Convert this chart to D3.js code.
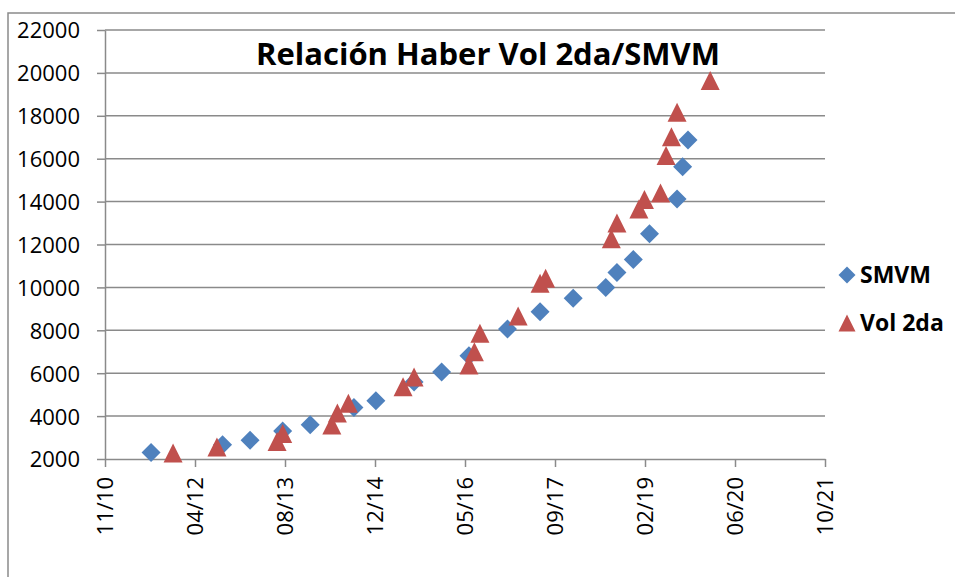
<!DOCTYPE html>
<html>
<head>
<meta charset="utf-8">
<script src="https://cdn.jsdelivr.net/npm/d3@7"></script>
<style>
	body { margin: 0; background: #fff; }
	svg { display: block; }
	svg text { font-family: "Open Sans", "DejaVu Sans", sans-serif; }
</style>
</head>
<body>
<div id="chart"></div>
<script>
// SMVM (salario minimo vital y movil)
var smvmDates = ["2011-08-01", "2012-09-01", "2013-02-01", "2013-08-01", "2014-01-01", "2014-09-01",
	"2015-01-01", "2015-08-01", "2016-01-01", "2016-06-01", "2017-01-01", "2017-07-01", "2018-01-01",
	"2018-07-01", "2018-09-01", "2018-12-01", "2019-03-01", "2019-08-01", "2019-09-01", "2019-10-01"];
var smvmValues = [2300, 2670, 2875, 3300, 3600, 4400, 4716, 5588, 6060, 6810, 8060, 8860, 9500,
	10000, 10700, 11300, 12500, 14125, 15625, 16875];

// haber Vol 2da
var volDates = ["2011-12-01", "2012-08-01", "2013-07-01", "2013-08-01", "2014-05-01", "2014-06-01",
	"2014-08-01", "2015-06-01", "2015-08-01", "2016-06-01", "2016-07-01", "2016-08-01", "2017-03-01",
	"2017-07-01", "2017-08-01", "2018-08-01", "2018-09-01", "2019-01-01", "2019-02-01", "2019-05-01",
	"2019-06-01", "2019-07-01", "2019-08-01", "2020-02-01"];
var volValues = [2280, 2560, 2820, 3190, 3585, 4145, 4600, 5370, 5825, 6380, 7000, 7860, 8670,
	10190, 10425, 12270, 13000, 13655, 14100, 14400, 16150, 17025, 18170, 19640];

var seriesNames = ["SMVM", "Vol 2da"];
var seriesColors = ["#4F81BD", "#C0504D"];
var title = "Relación Haber Vol 2da/SMVM";

// eje x: fechas de excel 40500 a 44500, cada 500 dias
var xStart = "2010-11-18";
var xStepDays = 500;
var xSteps = 8;
var yTicks = [2000, 4000, 6000, 8000, 10000, 12000, 14000, 16000, 18000, 20000, 22000];

var W = 955, H = 577;
var plotLeft = 105, plotRight = 825, plotTop = 30, plotBottom = 459;
var gray = "#8a8a8a";

var parse = d3.utcParse("%Y-%m-%d");
var t0 = parse(xStart);
var xTicks = d3.range(0, xSteps + 1).map(function(i) {
	return d3.utcDay.offset(t0, i * xStepDays);
});

var x = d3.scaleUtc()
	.domain([xTicks[0], xTicks[xTicks.length - 1]])
	.range([plotLeft, plotRight]);
var y = d3.scaleLinear()
	.domain([yTicks[0], yTicks[yTicks.length - 1]])
	.range([plotBottom, plotTop]);

var svg = d3.select("#chart")
	.append("svg")
	.attr("width", W)
	.attr("height", H);

// marco del grafico
svg.append("rect")
	.attr("x", 8)
	.attr("y", 13)
	.attr("width", W + 20)
	.attr("height", H + 20)
	.attr("fill", "none")
	.attr("stroke", gray)
	.attr("stroke-width", 1.5);

// lineas de grilla
svg.append("g")
	.selectAll("line")
	.data(yTicks.slice(1))
	.enter()
	.append("line")
	.attr("x1", plotLeft)
	.attr("x2", plotRight)
	.attr("y1", function(d) { return y(d); })
	.attr("y2", function(d) { return y(d); })
	.attr("stroke", gray)
	.attr("stroke-width", 1.5);

var yAxis = svg.append("g")
	.attr("transform", "translate(" + plotLeft + ",0)")
	.call(d3.axisLeft(y).tickValues(yTicks).tickSize(8).tickSizeOuter(0).tickPadding(17).tickFormat(d3.format("d")));

var xAxis = svg.append("g")
	.attr("transform", "translate(0," + plotBottom + ")")
	.call(d3.axisBottom(x).tickValues(xTicks).tickSize(8).tickSizeOuter(0).tickFormat(d3.utcFormat("%m/%y")));

[yAxis, xAxis].forEach(function(a) {
	a.attr("font-family", null);
	a.select(".domain").attr("stroke", gray).attr("stroke-width", 1.5);
	a.selectAll(".tick line").attr("stroke", gray).attr("stroke-width", 1.5);
	a.selectAll("text").attr("fill", "#000").style("font-size", "22px");
});

yAxis.selectAll("text").attr("dy", "0.36em");

xAxis.selectAll("text")
	.attr("transform", "rotate(-90)")
	.attr("text-anchor", "end")
	.attr("x", -18)
	.attr("y", 0)
	.attr("dy", "0.36em");

// marcadores
var diamond = function(s) {
	return "M0," + (-s) + "L" + s + ",0L0," + s + "L" + (-s) + ",0Z";
};
var triangle = function(s) {
	return "M0," + (-s) + "L" + s + "," + s + "L" + (-s) + "," + s + "Z";
};

svg.append("g")
	.selectAll("path")
	.data(smvmDates)
	.enter()
	.append("path")
	.attr("d", diamond(9.5))
	.attr("fill", seriesColors[0])
	.attr("transform", function(d, i) {
		return "translate(" + x(parse(d)) + "," + y(smvmValues[i]) + ")";
	});

svg.append("g")
	.selectAll("path")
	.data(volDates)
	.enter()
	.append("path")
	.attr("d", triangle(9.5))
	.attr("fill", seriesColors[1])
	.attr("transform", function(d, i) {
		return "translate(" + x(parse(d)) + "," + y(volValues[i]) + ")";
	});

// titulo
svg.append("text")
	.attr("x", 488)
	.attr("y", 65)
	.attr("text-anchor", "middle")
	.style("font-size", "31px")
	.style("font-weight", "bold")
	.text(title);

// leyenda
var legend = svg.append("g")
	.selectAll("g")
	.data(seriesNames)
	.enter()
	.append("g")
	.attr("transform", function(d, i) {
		return "translate(847," + (275 + i * 48) + ")";
	});

legend.append("path")
	.attr("d", function(d, i) { return i == 0 ? diamond(8.5) : triangle(8.5); })
	.attr("fill", function(d, i) { return seriesColors[i]; });

legend.append("text")
	.attr("x", 13)
	.attr("y", 8)
	.style("font-size", "23px")
	.style("font-weight", "bold")
	.text(function(d) { return d; });
</script>
</body>
</html>
